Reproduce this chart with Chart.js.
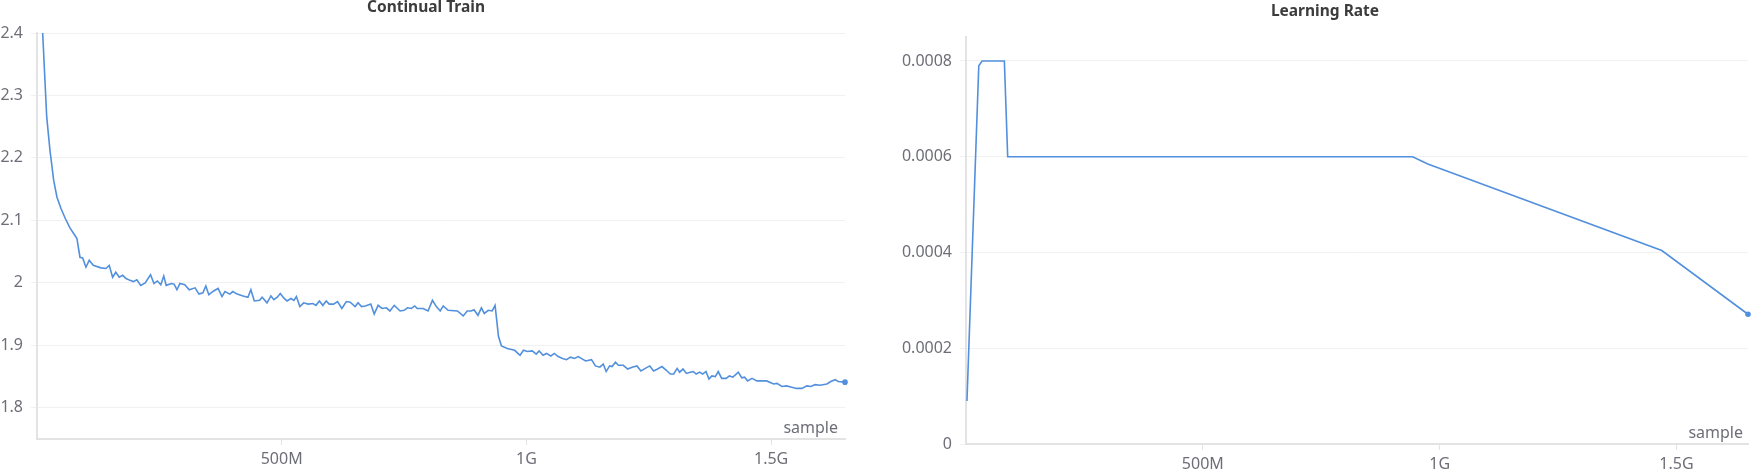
<!DOCTYPE html>
<html>
<head>
<meta charset="utf-8">
<script src="https://cdn.jsdelivr.net/npm/chart.js@4/dist/chart.umd.min.js"></script>
<style>
  body { margin: 0; background: #fff; }
  .panel { position: absolute; top: 0; height: 474px; }
  #left { left: 0; width: 876px; }
  #right { left: 877px; width: 876px; }
</style>
</head>
<body>
<div class="panel" id="left"><canvas id="trainChart"></canvas></div>
<div class="panel" id="right"><canvas id="lrChart"></canvas></div>
<script>
// samples are in billions (G)
const trainSample = [
  0.006, 0.0116, 0.0149, 0.0198, 0.0265, 0.0341, 0.0408, 0.049, 0.0578, 0.0673,
  0.0749, 0.0816, 0.0878, 0.0933, 0.100, 0.1067, 0.1149, 0.1306, 0.1408, 0.1476,
  0.1545, 0.161, 0.168, 0.175, 0.182, 0.190, 0.197, 0.204, 0.212, 0.221,
  0.232, 0.239, 0.246, 0.253, 0.259, 0.264, 0.275, 0.280, 0.286, 0.292,
  0.302, 0.311, 0.323, 0.331, 0.339, 0.345, 0.351, 0.361, 0.370, 0.378,
  0.384, 0.394, 0.400, 0.409, 0.421, 0.431, 0.437, 0.444, 0.455, 0.460,
  0.470, 0.478, 0.484, 0.491, 0.497, 0.505, 0.511, 0.519, 0.525, 0.530,
  0.537, 0.545, 0.554, 0.564, 0.570, 0.577, 0.584, 0.591, 0.597, 0.606,
  0.614, 0.623, 0.632, 0.640, 0.650, 0.656, 0.663, 0.671, 0.682, 0.689,
  0.697, 0.705, 0.714, 0.721, 0.730, 0.742, 0.750, 0.757, 0.765, 0.772,
  0.777, 0.789, 0.799, 0.808, 0.816, 0.824, 0.830, 0.840, 0.859, 0.871,
  0.879, 0.887, 0.893, 0.901, 0.908, 0.914, 0.922, 0.930, 0.936, 0.943,
  0.949, 0.961, 0.976, 0.987, 0.994, 1.002, 1.012, 1.020, 1.026, 1.034,
  1.041, 1.050, 1.057, 1.065, 1.074, 1.082, 1.090, 1.098, 1.106, 1.112,
  1.121, 1.133, 1.141, 1.150, 1.157, 1.163, 1.170, 1.175, 1.182, 1.188,
  1.198, 1.207, 1.216, 1.226, 1.234, 1.243, 1.252, 1.260, 1.268, 1.277,
  1.286, 1.294, 1.301, 1.308, 1.313, 1.320, 1.327, 1.335, 1.341, 1.347,
  1.354, 1.360, 1.367, 1.373, 1.379, 1.386, 1.392, 1.399, 1.408, 1.415,
  1.422, 1.433, 1.440, 1.446, 1.452, 1.461, 1.471, 1.491, 1.505, 1.512,
  1.522, 1.532, 1.542, 1.552, 1.563, 1.573, 1.581, 1.590, 1.600, 1.614,
  1.622, 1.631, 1.637, 1.651
];
const trainLoss = [
  2.60, 2.40, 2.346, 2.266, 2.212, 2.164, 2.137, 2.119, 2.103, 2.088,
  2.079, 2.071, 2.041, 2.040, 2.025, 2.036, 2.028, 2.024, 2.023, 2.028,
  2.009, 2.017, 2.009, 2.012, 2.007, 2.004, 2.002, 2.005, 1.996, 2.000,
  2.013, 1.999, 2.003, 1.997, 2.011, 1.996, 1.999, 1.998, 1.989, 1.999,
  1.997, 1.989, 1.992, 1.982, 1.984, 1.995, 1.981, 1.987, 1.991, 1.978,
  1.986, 1.982, 1.986, 1.982, 1.979, 1.977, 1.989, 1.971, 1.972, 1.977,
  1.968, 1.979, 1.973, 1.977, 1.983, 1.975, 1.971, 1.975, 1.972, 1.978,
  1.962, 1.968, 1.966, 1.967, 1.964, 1.971, 1.964, 1.971, 1.966, 1.966,
  1.970, 1.959, 1.970, 1.969, 1.962, 1.968, 1.962, 1.963, 1.966, 1.950,
  1.964, 1.959, 1.960, 1.955, 1.964, 1.955, 1.956, 1.960, 1.959, 1.963,
  1.959, 1.959, 1.955, 1.972, 1.962, 1.955, 1.963, 1.956, 1.955, 1.947,
  1.955, 1.955, 1.957, 1.948, 1.960, 1.951, 1.956, 1.955, 1.964, 1.914,
  1.899, 1.895, 1.892, 1.884, 1.892, 1.890, 1.891, 1.886, 1.891, 1.884,
  1.887, 1.883, 1.887, 1.882, 1.879, 1.877, 1.881, 1.879, 1.882, 1.879,
  1.875, 1.877, 1.867, 1.865, 1.870, 1.858, 1.867, 1.866, 1.873, 1.868,
  1.868, 1.862, 1.865, 1.867, 1.859, 1.863, 1.867, 1.859, 1.862, 1.866,
  1.860, 1.854, 1.854, 1.863, 1.857, 1.862, 1.855, 1.857, 1.858, 1.854,
  1.857, 1.854, 1.858, 1.846, 1.851, 1.850, 1.858, 1.847, 1.847, 1.851,
  1.849, 1.857, 1.848, 1.849, 1.843, 1.847, 1.843, 1.843, 1.838, 1.839,
  1.834, 1.835, 1.833, 1.831, 1.831, 1.835, 1.834, 1.837, 1.836, 1.838,
  1.842, 1.845, 1.842, 1.841
];

const lrSample = [0.002, 0.027, 0.034, 0.081, 0.088, 0.943, 0.975, 1.469, 1.651];
const lrValue = [0.00009, 0.00079, 0.0008, 0.0008, 0.0006, 0.0006, 0.000585, 0.000404, 0.000271];

const xTickValues = [0.5, 1, 1.5];
const xTickLabels = ['500M', '1G', '1.5G'];
const lossTicks = [1.8, 1.9, 2, 2.1, 2.2, 2.3, 2.4];
const lrTicks = [0, 0.0002, 0.0004, 0.0006, 0.0008];

const lineColor = '#5290dd';
const gridColor = '#f1f1f1';
const axisColor = '#e3e3e3';
const tickColor = '#6e6e78';
const fontFamily = "'Noto Sans', sans-serif";

// title + "sample" label
const panelText = {
  id: 'panelText',
  afterDraw(chart, args, opts) {
    const ctx = chart.ctx;
    const area = chart.chartArea;
    ctx.save();
    ctx.fillStyle = '#3c3c3c';
    ctx.font = 'bold 15.5px ' + fontFamily;
    ctx.textAlign = 'center';
    ctx.textBaseline = 'middle';
    ctx.fillText(opts.title, opts.titleX, opts.titleY);
    ctx.fillStyle = tickColor;
    ctx.font = '16px ' + fontFamily;
    ctx.textAlign = 'right';
    ctx.fillText('sample', area.right - opts.labelRight, area.bottom - 11);
    ctx.restore();
  }
};

function makeConfig(o) {
  const pts = o.xs.map((s, i) => ({ x: s, y: o.ys[i] }));
  return {
    type: 'line',
    data: {
      datasets: [{
        data: pts,
        borderColor: lineColor,
        backgroundColor: lineColor,
        borderWidth: 1.6,
        pointRadius: ctx => ctx.dataIndex === pts.length - 1 ? 2.8 : 0,
        pointBorderWidth: 0,
        tension: 0,
        clip: { left: 0, top: 0, right: 5, bottom: 5 }
      }]
    },
    options: {
      responsive: true,
      maintainAspectRatio: false,
      animation: false,
      layout: { padding: { top: o.top, right: o.right, left: 0, bottom: 0 } },
      plugins: {
        legend: { display: false },
        tooltip: { enabled: false },
        panelText: { title: o.title, titleX: o.titleX, titleY: o.titleY, labelRight: o.labelRight }
      },
      scales: {
        x: {
          type: 'linear',
          min: 0,
          max: 1.651,
          afterBuildTicks: s => { s.ticks = xTickValues.map(v => ({ value: v })); },
          afterFit: s => { s.height = o.xHeight; },
          ticks: {
            callback: v => xTickLabels[xTickValues.indexOf(v)],
            color: tickColor,
            font: { family: fontFamily, size: 16 },
            padding: 5,
            maxRotation: 0
          },
          grid: { drawOnChartArea: false, tickLength: 6, color: axisColor },
          border: { color: axisColor, width: 2 }
        },
        y: {
          min: o.yMin,
          max: o.yMax,
          afterBuildTicks: s => { s.ticks = o.yTicks.map(v => ({ value: v })); },
          afterFit: s => { s.width = o.yWidth; },
          ticks: {
            callback: v => String(v),
            color: tickColor,
            font: { family: fontFamily, size: 16 },
            padding: 8
          },
          grid: { color: gridColor, tickLength: 6 },
          border: { color: axisColor, width: 2 }
        }
      }
    },
    plugins: [panelText]
  };
}

const trainChart = new Chart(document.getElementById('trainChart'), makeConfig({
  xs: trainSample, ys: trainLoss,
  yMin: 1.75, yMax: 2.4, yTicks: lossTicks,
  top: 33, right: 31, xHeight: 35, yWidth: 37,
  title: 'Continual Train', titleX: 426, titleY: 8, labelRight: 7
}));

const lrChart = new Chart(document.getElementById('lrChart'), makeConfig({
  xs: lrSample, ys: lrValue,
  yMin: 0, yMax: 0.00085, yTicks: lrTicks,
  top: 37, right: 5, xHeight: 30, yWidth: 89,
  title: 'Learning Rate', titleX: 448, titleY: 12, labelRight: 5
}));
</script>
</body>
</html>
